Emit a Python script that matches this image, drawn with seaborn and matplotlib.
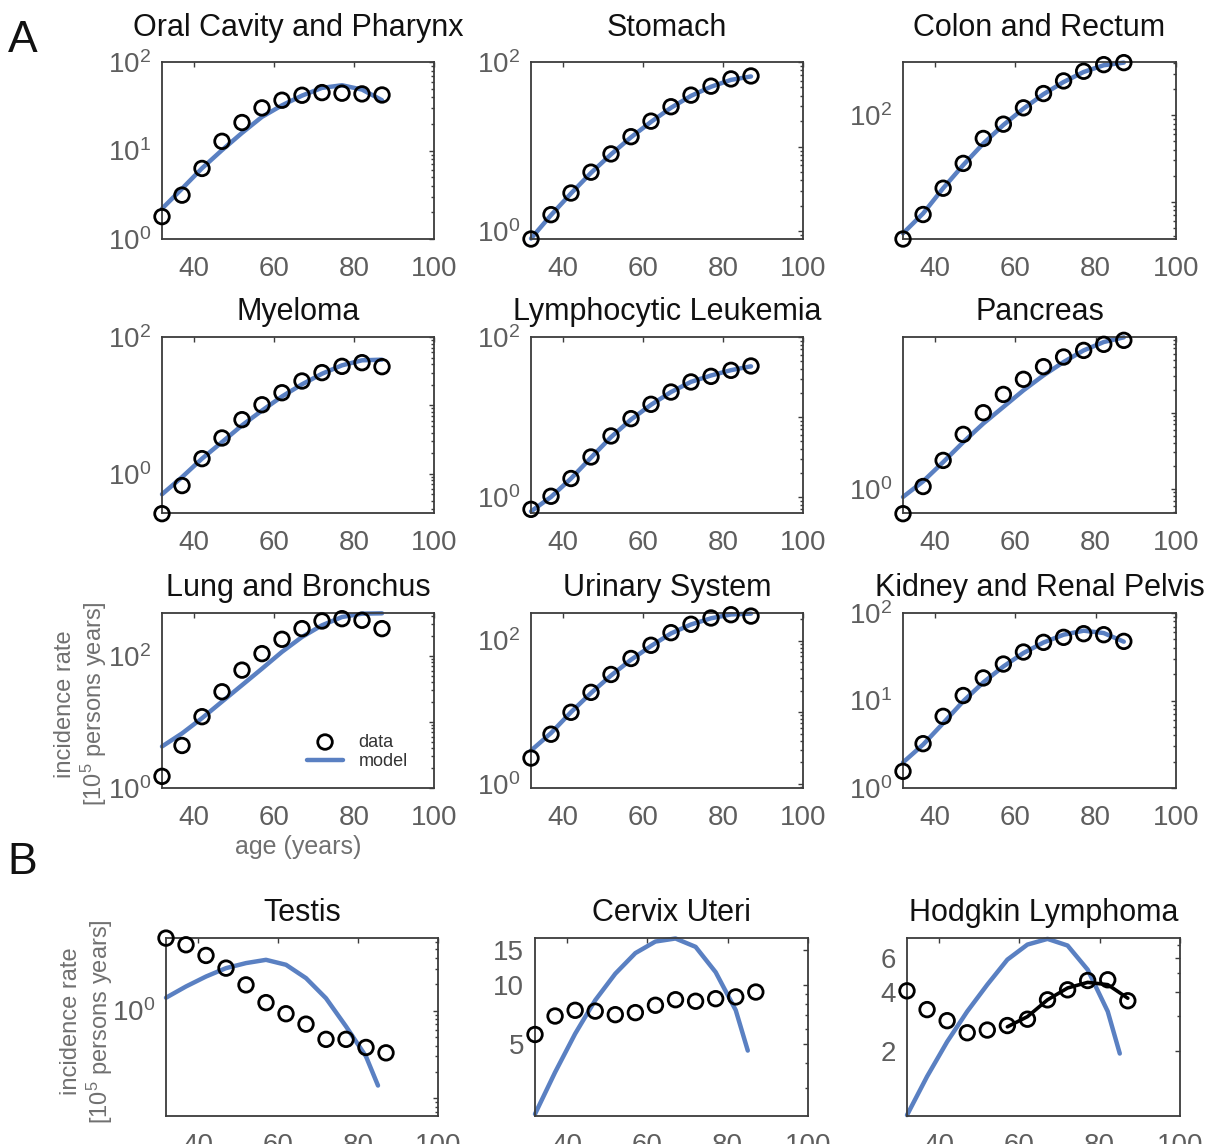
import numpy as np
import matplotlib
matplotlib.use("Agg")
import matplotlib.pyplot as plt
import matplotlib.ticker as mticker
import seaborn as sns

# ---------------------------------------------------------------- data
ages = [32, 37, 42, 47, 52, 57, 62, 67, 72, 77, 82, 87]
model_ages = [32, 37, 42, 47, 52, 57, 62, 67, 72, 77, 82, 87]
model_ages_b = [32, 37, 42, 47, 52, 57, 62, 67, 72, 77, 82, 85]

oral_data = [1.79, 3.13, 6.27, 12.7, 20.7, 30.3, 37.0, 42.1, 45.1, 44.4, 43.6, 42.4]
oral_model = [2.2, 3.7, 6.3, 10.1, 15.8, 24.0, 32.4, 41.7, 51.0, 54.6, 48.8, 37.0]

stomach_data = [0.81, 1.57, 2.83, 4.99, 8.20, 13.1, 20.0, 29.6, 40.6, 51.8, 63.1, 68.4]
stomach_model = [0.82, 1.55, 2.8, 4.9, 8.1, 12.9, 19.6, 28.8, 39.8, 51.0, 61.5, 67.5]

colon_data = [3.7, 7.1, 14.3, 27.7, 53.8, 78.7, 121.6, 177.8, 248.9, 322, 384, 405]
colon_model = [4.3, 7.3, 14.3, 26.5, 47, 77, 119, 175, 242, 316, 378, 405]

myeloma_data = [0.26, 0.67, 1.66, 3.33, 6.17, 10.2, 15.3, 22.7, 30.1, 37.2, 42.1, 36.8]
myeloma_model = [0.50, 0.89, 1.66, 2.9, 5.1, 8.4, 13.5, 20.3, 29.0, 38.5, 45.6, 46.6]

lymph_data = [0.70, 1.02, 1.70, 3.16, 5.79, 9.53, 14.4, 20.5, 27.4, 32.2, 38.3, 43.4]
lymph_model = [0.66, 1.0, 1.7, 3.1, 5.6, 9.3, 14.2, 20.5, 27.5, 33.0, 38.5, 43.0]

pancreas_data = [0.47, 1.07, 2.36, 5.19, 10.0, 17.4, 27.5, 40.3, 54.0, 66.0, 79.3, 89.5]
pancreas_model = [0.78, 1.25, 2.24, 4.1, 7.2, 11.9, 19.7, 31.0, 46.4, 66.0, 85.0, 98.0]

lung_data = [1.50, 4.40, 12.0, 28.6, 60.8, 108, 178, 258, 337, 365, 345, 258]
lung_model = [4.25, 6.7, 11.4, 20.3, 36, 64, 115, 193, 290, 387, 435, 440]

urinary_data = [2.28, 4.91, 9.95, 18.9, 33.6, 56.2, 86.0, 129, 169, 207, 230, 220]
urinary_model = [2.9, 5.1, 10.0, 18.5, 32.5, 54, 84, 126, 168, 205, 232, 238]

kidney_data = [1.55, 3.21, 6.59, 11.4, 18.1, 26.1, 35.8, 46.2, 52.7, 58.0, 56.5, 47.4]
kidney_model = [1.96, 3.13, 5.5, 9.8, 16.1, 24.5, 34.9, 46.0, 56.5, 62.8, 59.0, 47.0]

testis_data = [6.68, 5.61, 4.24, 3.04, 1.96, 1.23, 0.92, 0.70, 0.47, 0.47, 0.38, 0.33]
testis_model = [1.40, 1.88, 2.44, 3.04, 3.47, 3.78, 3.32, 2.34, 1.38, 0.66, 0.30, 0.14]

cervix_data = [5.60, 6.95, 7.43, 7.36, 7.06, 7.23, 7.88, 8.41, 8.26, 8.51, 8.69, 9.20]
cervix_model = [2.21, 3.6, 5.65, 8.36, 11.4, 14.5, 16.6, 17.2, 15.6, 11.6, 7.44, 4.64]

hodgkin_data = [4.06, 3.25, 2.85, 2.47, 2.55, 2.69, 2.90, 3.65, 4.11, 4.59, 4.63, 3.61]
hodgkin_model = [0.93, 1.47, 2.22, 3.18, 4.37, 5.88, 7.03, 7.52, 6.95, 5.22, 3.18, 1.93]
hodgkin_late_ages = [57, 62, 67, 72, 77, 82, 87]
hodgkin_late_model = [2.65, 2.99, 3.65, 4.2, 4.49, 4.37, 3.72]

xticks = [40, 60, 80, 100]

# ---------------------------------------------------------------- style
sns.set_theme(style="white")
plt.rcParams["font.family"] = ["Liberation Sans", "DejaVu Sans"]
plt.rcParams["mathtext.fontset"] = "custom"
plt.rcParams["mathtext.rm"] = "Liberation Sans"
plt.rcParams["mathtext.it"] = "Liberation Sans:italic"
plt.rcParams["mathtext.default"] = "regular"

BLUE = "#5a80c2"
SPINE = "#3c3c3c"
TICKTXT = "#5e5e5e"
LABELTXT = "#707070"

FIG_W, FIG_H = 1228, 1144
fig = plt.figure(figsize=(FIG_W / 100, FIG_H / 100), dpi=100)


def box(l, t, r, b):
    return [l / FIG_W, 1 - b / FIG_H, (r - l) / FIG_W, (b - t) / FIG_H]


def style_axes(ax, ylim, yticks, yticklabels, title, title_pad):
    ax.set_yscale("log")
    ax.set_xlim(32, 100)
    ax.set_ylim(*ylim)
    ax.set_xticks(xticks)
    ax.set_xticklabels([str(t) for t in xticks])
    ax.yaxis.set_major_locator(mticker.FixedLocator(yticks))
    ax.yaxis.set_major_formatter(mticker.FixedFormatter(yticklabels))
    ax.yaxis.set_minor_locator(mticker.LogLocator(base=10, subs=np.arange(2, 10), numticks=30))
    ax.yaxis.set_minor_formatter(mticker.NullFormatter())
    ax.tick_params(which="both", direction="in", top=True, right=True,
                   color=SPINE, width=1.0)
    ax.tick_params(which="major", length=3.5)
    ax.tick_params(which="minor", length=2.0)
    ax.tick_params(axis="x", which="major", labelsize=20, labelcolor=TICKTXT, pad=12)
    ax.tick_params(axis="y", which="major", labelsize=20, labelcolor=TICKTXT, pad=8)
    for s in ax.spines.values():
        s.set_color(SPINE)
        s.set_linewidth(1.3)
    ax.set_facecolor("white")
    ax.set_title(title, fontsize=22, color="#111111", pad=title_pad)
    ax.set_xlabel("")
    ax.set_ylabel("")


def draw(ax, data, model, m_ages):
    sns.lineplot(x=m_ages, y=model, ax=ax, color=BLUE, linewidth=3.2,
                 legend=False, zorder=2, clip_on=False)
    sns.scatterplot(x=ages, y=data, ax=ax, marker="o", s=110,
                    facecolor="none", edgecolor="black", linewidth=2.0,
                    legend=False, zorder=3, clip_on=False)
    return ax.collections[-1], ax.lines[-1]


L2 = [r"$10^0$", "", r"$10^2$"]
L3 = [r"$10^0$", r"$10^1$", r"$10^2$"]

col_x = [(162, 434), (531, 803), (903, 1176)]
row_y = [(62, 239), (337, 513), (613, 788)]
row_pad = [19.0, 12.0, 12.0]

panels_a = [
    ("Oral Cavity and Pharynx", oral_data, oral_model, (1, 100), [1, 10, 100], L3),
    ("Stomach", stomach_data, stomach_model, (0.81, 100), [1, 10, 100], L2),
    ("Colon and Rectum", colon_data, colon_model, (3.7, 412), [10, 100], ["", r"$10^2$"]),
    ("Myeloma", myeloma_data, myeloma_model, (0.266, 100), [1, 10, 100], L2),
    ("Lymphocytic Leukemia", lymph_data, lymph_model, (0.63, 100), [1, 10, 100], L2),
    ("Pancreas", pancreas_data, pancreas_model, (0.48, 99), [1, 10], [r"$10^0$", ""]),
    ("Lung and Bronchus", lung_data, lung_model, (1, 445), [1, 10, 100], L2),
    ("Urinary System", urinary_data, urinary_model, (0.87, 243), [1, 10, 100], L2),
    ("Kidney and Renal Pelvis", kidney_data, kidney_model, (1, 100), [1, 10, 100], L3),
]

ylabel_txt = "incidence rate\n[$10^5$ persons years]"

for i, (title, data, model, ylim, yt, ytl) in enumerate(panels_a):
    r, c = divmod(i, 3)
    ax = fig.add_axes(box(col_x[c][0], row_y[r][0], col_x[c][1], row_y[r][1]))
    sc, ln = draw(ax, data, model, model_ages)
    style_axes(ax, ylim, yt, ytl, title, row_pad[r])
    if title == "Lung and Bronchus":
        ax.set_ylabel(ylabel_txt, fontsize=17, color=LABELTXT, linespacing=1.1)
        ax.yaxis.set_label_coords(-0.195, 0.48)
        ax.set_xlabel("age (years)", fontsize=18, color=LABELTXT)
        ax.xaxis.set_label_coords(0.5, -0.27)
        ax.xaxis.label.set_va("top")
        ax.legend([sc, ln], ["data", "model"], loc="upper left",
                  bbox_to_anchor=(0.533, 0.31), frameon=False, fontsize=13,
                  handlelength=2.0, handletextpad=0.85, labelspacing=0.12,
                  borderpad=0, borderaxespad=0, labelcolor="#333333")

# ---------------------------------------------------------------- panel B
b_cols = [(166, 438), (535, 808), (907, 1180)]
b_row = (938, 1116)

panels_b = [
    ("Testis", testis_data, testis_model, (0.063, 6.7), [0.1, 1], ["", r"$10^0$"]),
    ("Cervix Uteri", cervix_data, cervix_model, (2.16, 17.3), [5, 10, 15], ["5", "10", "15"]),
    ("Hodgkin Lymphoma", hodgkin_data, hodgkin_model, (0.92, 7.6), [2, 4, 6], ["2", "4", "6"]),
]

for c, (title, data, model, ylim, yt, ytl) in enumerate(panels_b):
    ax = fig.add_axes(box(b_cols[c][0], b_row[0], b_cols[c][1], b_row[1]))
    draw(ax, data, model, model_ages_b)
    if title == "Hodgkin Lymphoma":
        sns.lineplot(x=hodgkin_late_ages, y=hodgkin_late_model, ax=ax,
                     color="black", linewidth=2.6, legend=False, zorder=4)
    style_axes(ax, ylim, yt, ytl, title, 12.0)
    if title == "Testis":
        ax.set_ylabel(ylabel_txt, fontsize=17, color=LABELTXT, linespacing=1.1)
        ax.yaxis.set_label_coords(-0.188, 0.53)

fig.text(23 / FIG_W, 1 - 40 / FIG_H, "A", fontsize=32, ha="center", va="center", color="#111111")
fig.text(22 / FIG_W, 1 - 862 / FIG_H, "B", fontsize=32, ha="center", va="center", color="#111111")

fig.savefig("out.png", dpi=100, facecolor="white")
